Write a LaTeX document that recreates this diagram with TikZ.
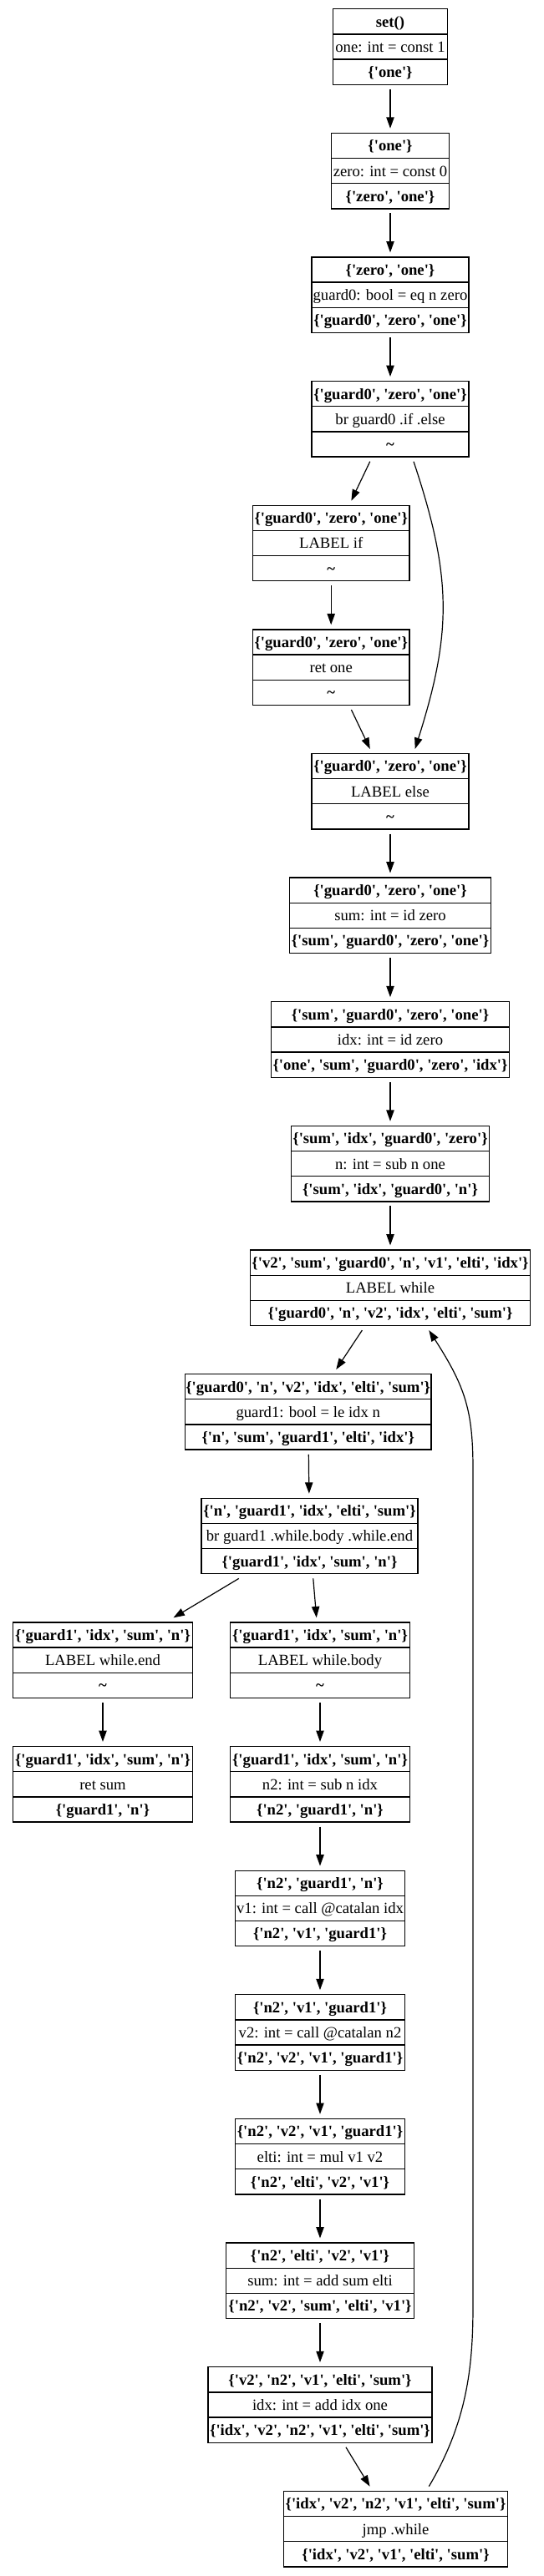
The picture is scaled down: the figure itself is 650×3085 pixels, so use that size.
\documentclass[tikz,border=0pt]{standalone}
\usepackage{fontspec}
\setmainfont{Liberation Serif}[Ligatures=TeXOff]
\usetikzlibrary{arrows.meta,calc}
\tikzset{
  blk/.style={draw=black, line width=1pt, rectangle, inner sep=0pt, outer sep=4.2pt, minimum height=67.875pt},
  rowsep/.style={draw=black, line width=1pt},
  txt/.style={anchor=base, inner sep=0pt, font=\fontsize{14}{16}\selectfont},
  txtb/.style={anchor=base, inner sep=0pt, font=\fontsize{14}{16}\selectfont\bfseries},
  edge/.style={draw=black, line width=0.9pt, -{Triangle[length=10pt,width=7pt]}},
}
% name, center x, rank, width, top row, middle row, bottom row
\newcommand{\cfgbox}[7]{%
  \pgfmathsetmacro{\cbT}{10.7+148.63*#3}%
  \pgfmathsetmacro{\cbL}{#2-#4/2}%
  \pgfmathsetmacro{\cbR}{#2+#4/2}%
  \node[blk, minimum width={#4*0.75pt}] (#1) at ({#2},{\cbT+45.25}) {};
  \draw[rowsep] (\cbL,{\cbT+30.17}) -- (\cbR,{\cbT+30.17});
  \draw[rowsep] (\cbL,{\cbT+60.33}) -- (\cbR,{\cbT+60.33});
  \node[txtb] (#1-a) at ({#2},{\cbT+21.5}) {#5};
  \node[txt]  (#1-b) at ({#2},{\cbT+51.7}) {#6};
  \node[txtb] (#1-c) at ({#2},{\cbT+81.8}) {#7};
}
\newcommand{\tl}{\textasciitilde}
\begin{document}
\begin{tikzpicture}[x=0.75pt,y=-0.75pt]
\fill[white] (0,0) rectangle (650,3085);
\useasboundingbox (0,0) rectangle (650,3085);

\cfgbox{b1}{467}{0}{136.7}{set()}{one: int = const 1}{\{'one'\}}
\cfgbox{b2}{467}{1}{141.4}{\{'one'\}}{zero: int = const 0}{\{'zero', 'one'\}}
\cfgbox{b3}{467}{2}{188.3}{\{'zero', 'one'\}}{guard0: bool = eq n zero}{\{'guard0', 'zero', 'one'\}}
\cfgbox{b4}{467}{3}{187.7}{\{'guard0', 'zero', 'one'\}}{br guard0 .if .else}{\tl}
\cfgbox{b5}{396.2}{4}{187.7}{\{'guard0', 'zero', 'one'\}}{LABEL if}{\tl}
\cfgbox{b6}{396.2}{5}{187.7}{\{'guard0', 'zero', 'one'\}}{ret one}{\tl}
\cfgbox{b7}{467}{6}{187.7}{\{'guard0', 'zero', 'one'\}}{LABEL else}{\tl}
\cfgbox{b8}{467}{7}{240.6}{\{'guard0', 'zero', 'one'\}}{sum: int = id zero}{\{'sum', 'guard0', 'zero', 'one'\}}
\cfgbox{b9}{467}{8}{285}{\{'sum', 'guard0', 'zero', 'one'\}}{idx: int = id zero}{\{'one', 'sum', 'guard0', 'zero', 'idx'\}}
\cfgbox{b10}{467}{9}{237.4}{\{'sum', 'idx', 'guard0', 'zero'\}}{n: int = sub n one}{\{'sum', 'idx', 'guard0', 'n'\}}
\cfgbox{b11}{467}{10}{335.4}{\{'v2', 'sum', 'guard0', 'n', 'v1', 'elti', 'idx'\}}{LABEL while}{\{'guard0', 'n', 'v2', 'idx', 'elti', 'sum'\}}
\cfgbox{b12}{368.7}{11}{294.5}{\{'guard0', 'n', 'v2', 'idx', 'elti', 'sum'\}}{guard1: bool = le idx n}{\{'n', 'sum', 'guard1', 'elti', 'idx'\}}
\cfgbox{b13}{370.5}{12}{259}{\{'n', 'guard1', 'idx', 'elti', 'sum'\}}{br guard1 .while.body .while.end}{\{'guard1', 'idx', 'sum', 'n'\}}
\cfgbox{b14}{123}{13}{214.5}{\{'guard1', 'idx', 'sum', 'n'\}}{LABEL while.end}{\tl}
\cfgbox{b15}{383}{13}{214.5}{\{'guard1', 'idx', 'sum', 'n'\}}{LABEL while.body}{\tl}
\cfgbox{b16}{123}{14}{214.5}{\{'guard1', 'idx', 'sum', 'n'\}}{ret sum}{\{'guard1', 'n'\}}
\cfgbox{b17}{383}{14}{214.5}{\{'guard1', 'idx', 'sum', 'n'\}}{n2: int = sub n idx}{\{'n2', 'guard1', 'n'\}}
\cfgbox{b18}{383}{15}{203.5}{\{'n2', 'guard1', 'n'\}}{v1: int = call @catalan idx}{\{'n2', 'v1', 'guard1'\}}
\cfgbox{b19}{383}{16}{202.6}{\{'n2', 'v1', 'guard1'\}}{v2: int = call @catalan n2}{\{'n2', 'v2', 'v1', 'guard1'\}}
\cfgbox{b20}{383}{17}{202.6}{\{'n2', 'v2', 'v1', 'guard1'\}}{elti: int = mul v1 v2}{\{'n2', 'elti', 'v2', 'v1'\}}
\cfgbox{b21}{383}{18}{224.6}{\{'n2', 'elti', 'v2', 'v1'\}}{sum: int = add sum elti}{\{'n2', 'v2', 'sum', 'elti', 'v1'\}}
\cfgbox{b22}{383}{19}{268}{\{'v2', 'n2', 'v1', 'elti', 'sum'\}}{idx: int = add idx one}{\{'idx', 'v2', 'n2', 'v1', 'elti', 'sum'\}}
\cfgbox{b23}{473.5}{20}{268.4}{\{'idx', 'v2', 'n2', 'v1', 'elti', 'sum'\}}{jmp .while}{\{'idx', 'v2', 'v1', 'elti', 'sum'\}}

\draw[edge] (b1) -- (b2);
\draw[edge] (b2) -- (b3);
\draw[edge] (b3) -- (b4);
\draw[edge] (b4) -- (b5);
\draw[edge] (b5) -- (b6);
\draw[edge] (b6) -- (b7);
\draw[edge] ($(b4.south)+(28,0)$) .. controls (541,691) and (541,757) .. ($(b7.north)+(29.7,0)$);
\draw[edge] (b7) -- (b8);
\draw[edge] (b8) -- (b9);
\draw[edge] (b9) -- (b10);
\draw[edge] (b10) -- (b11);
\draw[edge] (b11) -- (b12);
\draw[edge] (b12) -- (b13);
\draw[edge] (b13) -- (b14);
\draw[edge] (b13) -- (b15);
\draw[edge] (b14) -- (b16);
\draw[edge] (b15) -- (b17);
\draw[edge] (b17) -- (b18);
\draw[edge] (b18) -- (b19);
\draw[edge] (b19) -- (b20);
\draw[edge] (b20) -- (b21);
\draw[edge] (b21) -- (b22);
\draw[edge] (b22) -- (b23);
\draw[edge] ($(b23.north)+(39.8,0)$) .. controls (560.5,2898) and (566,2830) .. (566,2760) -- (566,1760) .. controls (566,1690) and (557.4,1661.7) .. ($(b11.south)+(46.3,0)$);
\end{tikzpicture}
\end{document}
